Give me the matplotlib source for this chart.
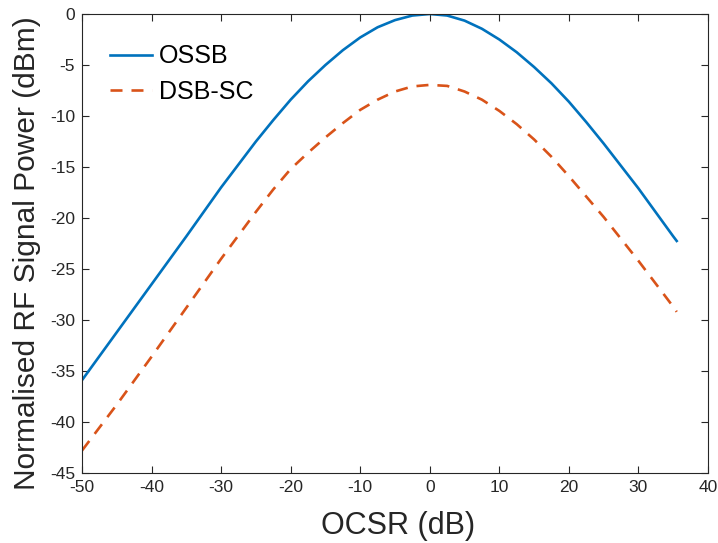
import numpy as np
import matplotlib
matplotlib.use('Agg')
import matplotlib.pyplot as plt

# ── Data ──────────────────────────────────────────────
ocsr = [-50, -45, -40, -35, -30, -25, -22.5, -20, -17.5, -15, -12.5, -10, -7.5, -5, -2.5,
        0, 2.5, 5, 7.5, 10, 12.5, 15, 17.5, 20, 22.5, 25, 30, 35, 35.5]
ossb = [-35.9, -31.2, -26.5, -21.8, -17.0, -12.5, -10.4, -8.4, -6.6, -5.0, -3.55, -2.3, -1.3, -0.6, -0.15,
        0.0, -0.15, -0.65, -1.45, -2.5, -3.75, -5.2, -6.8, -8.6, -10.6, -12.7, -17.1, -21.8, -22.25]
dsb_sc = [-42.8, -38.3, -33.6, -28.8, -24.0, -19.4, -17.2, -15.2, -13.6, -12.1, -10.7, -9.4, -8.4, -7.6, -7.1,
          -6.95, -7.05, -7.6, -8.4, -9.5, -10.8, -12.3, -14.0, -15.9, -17.9, -19.9, -24.2, -28.7, -29.2]

xticks = np.arange(-50, 41, 10)
yticks = np.arange(-45, 1, 5)

BLUE = "#0072BD"; ORANGE = "#D95319"; AXC = "#262626"

plt.rcParams.update({'font.family': ['Liberation Sans', 'DejaVu Sans'],
                     'axes.unicode_minus': False})

fig = plt.figure(figsize=(7.18, 5.43), dpi=100)
ax = fig.add_axes([82/718, 1 - 473/543, 626/718, 459/543])

ax.plot(ocsr, ossb, color=BLUE, lw=1.9, label='OSSB')
ax.plot(ocsr, dsb_sc, color=ORANGE, lw=1.9, linestyle=(0, (4.55, 3.4)), label='DSB-SC')

ax.set_xlim(-50, 40); ax.set_ylim(-45, 0)
ax.set_xticks(xticks); ax.set_yticks(yticks)
ax.tick_params(direction='in', length=5, width=0.8, color=AXC, labelcolor=AXC,
               top=True, right=True, labelsize=12.5, pad=5)
for s in ax.spines.values():
    s.set_color(AXC); s.set_linewidth(0.8)

ax.set_xlabel("OCSR (dB)", fontsize=22, color=AXC)
ax.set_ylabel("Normalised RF Signal Power (dBm)", fontsize=21.5, color=AXC)
ax.xaxis.set_label_coords(0.505, -0.082)
ax.yaxis.set_label_coords(-0.066, 0.48)

ax.legend(loc='upper left', bbox_to_anchor=(0.045, 0.934), frameon=False,
          fontsize=18, handlelength=1.68, handletextpad=0.28, labelspacing=0.47,
          borderpad=0, borderaxespad=0)

plt.savefig("out.png", dpi=100)
